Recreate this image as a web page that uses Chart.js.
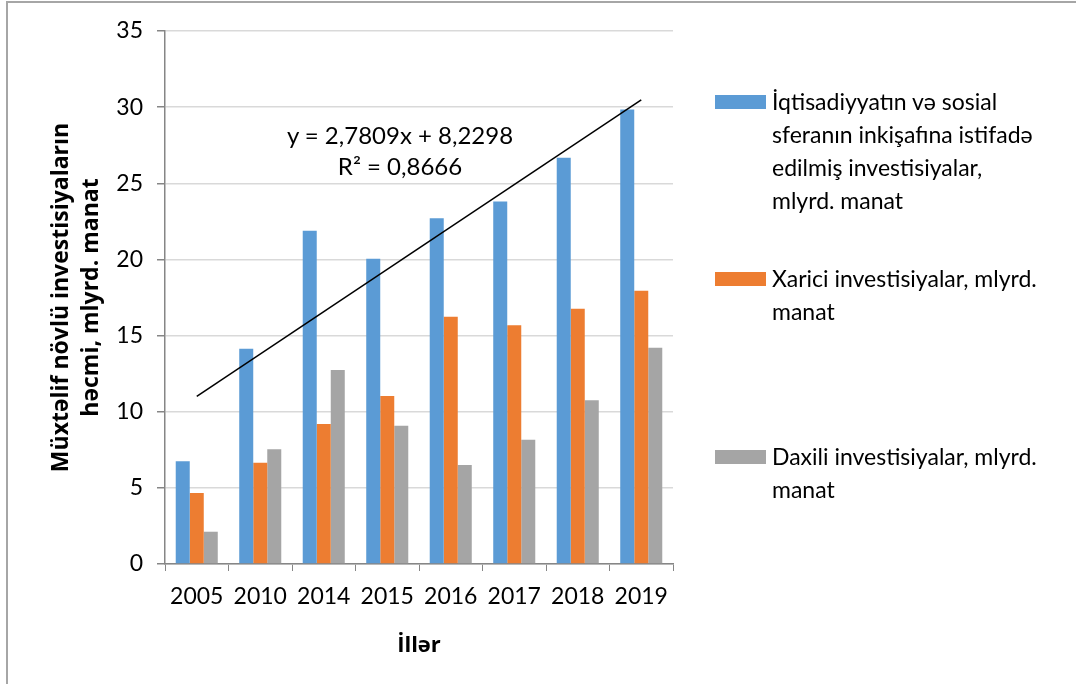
<!DOCTYPE html>
<html>
<head>
<meta charset="utf-8">
<script src="https://cdn.jsdelivr.net/npm/chart.js@4.4.1/dist/chart.umd.min.js"></script>
<style>
  body { margin: 0; background: #fff; }
  #wrap { position: relative; width: 1076px; height: 684px; overflow: hidden; }
  #frame { position: absolute; left: 6px; top: 1px; width: 1100px; height: 700px;
    border-left: 2px solid #a6a6a6; border-top: 2px solid #a6a6a6; box-sizing: border-box; }
  canvas { position: absolute; left: 0; top: 0; }
  .legend { position: absolute; left: 715px; font-family: Lato, sans-serif; font-size: 23px;
    line-height: 33px; color: #000; }
  .legend .box { position: absolute; left: 0; width: 51px; height: 14px; }
  .legend .txt { position: absolute; left: 57px; white-space: nowrap; }
  #eq { position: absolute; left: 255px; top: 119px; width: 290px; text-align: center;
    font-family: Lato, sans-serif; font-size: 24px; line-height: 31px; }
</style>
</head>
<body>
<div id="wrap">
  <div id="frame"></div>
  <canvas id="c" width="1076" height="684"></canvas>
  <div id="eq">y = 2,7809x + 8,2298<br>R² = 0,8666</div>
  <div id="legend"></div>
</div>
<script>
const years = ['2005', '2010', '2014', '2015', '2016', '2017', '2018', '2019'];
const economyInvest = [6.75, 14.14, 21.89, 20.05, 22.7, 23.81, 26.68, 29.85];
const foreignInvest = [4.66, 6.65, 9.19, 11.03, 16.24, 15.67, 16.76, 17.95];
const domesticInvest = [2.12, 7.53, 12.74, 9.08, 6.5, 8.16, 10.75, 14.2];
// trend line read at its two ends (2005 and 2019 centres)
const trendValues = [11.01, null, null, null, null, null, null, 30.48];
const yTicks = [0, 5, 10, 15, 20, 25, 30, 35];

const legendLines = [
  ['İqtisadiyyatın və sosial', 'sferanın inkişafına istifadə', 'edilmiş investisiyalar,', 'mlyrd. manat'],
  ['Xarici investisiyalar, mlyrd.', 'manat'],
  ['Daxili investisiyalar, mlyrd.', 'manat']
];
const colors = ['#5b9bd5', '#ed7d31', '#a5a5a5'];
const legendTops = [85, 262, 440];

const legendEl = document.getElementById('legend');
legendLines.forEach((lines, i) => {
  const item = document.createElement('div');
  item.className = 'legend';
  item.style.top = legendTops[i] + 'px';
  item.innerHTML = '<div class="box" style="top:10px;background:' + colors[i] + '"></div>' +
    '<div class="txt">' + lines.join('<br>') + '</div>';
  legendEl.appendChild(item);
});

new Chart(document.getElementById('c'), {
  data: {
    labels: years,
    datasets: [
      { type: 'line', label: 'trend', data: trendValues, borderColor: '#000', borderWidth: 1.5,
        pointRadius: 0, spanGaps: true, order: 0 },
      { type: 'bar', label: legendLines[0].join(' '), data: economyInvest, backgroundColor: colors[0], order: 1 },
      { type: 'bar', label: legendLines[1].join(' '), data: foreignInvest, backgroundColor: colors[1], order: 1 },
      { type: 'bar', label: legendLines[2].join(' '), data: domesticInvest, backgroundColor: colors[2], order: 1 }
    ]
  },
  options: {
    responsive: false,
    animation: false,
    layout: { padding: { left: 0, right: 403, top: 31, bottom: 25 } },
    datasets: { bar: { categoryPercentage: 0.662, barPercentage: 1.0 } },
    plugins: { legend: { display: false }, tooltip: { enabled: false } },
    scales: {
      x: {
        grid: { drawOnChartArea: false, drawTicks: true, tickLength: 7, color: '#868686', offset: true },
        border: { color: '#868686', width: 1.5 },
        ticks: { color: '#000', font: { family: 'Lato', size: 23 }, padding: 12, maxRotation: 0 },
        title: { display: true, text: 'İllər', color: '#000', font: { family: 'Open Sans', size: 22, weight: 'bold' },
          padding: { top: 8, bottom: 0 } },
        afterFit: s => { s.height = 95; }
      },
      y: {
        min: 0, max: 35,
        afterBuildTicks: s => { s.ticks = yTicks.map(v => ({ value: v })); },
        grid: { color: '#d9d9d9', lineWidth: 1.5, tickLength: 8, tickColor: '#868686' },
        border: { color: '#868686', width: 1.5 },
        ticks: { color: '#000', font: { family: 'Lato', size: 23 }, padding: 14 },
        title: { display: true, text: ['Müxtəlif növlü investisiyaların', 'həcmi, mlyrd. manat'], color: '#000',
          font: { family: 'Open Sans', size: 23, weight: 'bold', lineHeight: 1.3 },
          padding: { top: 47, bottom: 0 } },
        afterFit: s => { s.width = 165; }
      }
    }
  }
});
</script>
</body>
</html>
